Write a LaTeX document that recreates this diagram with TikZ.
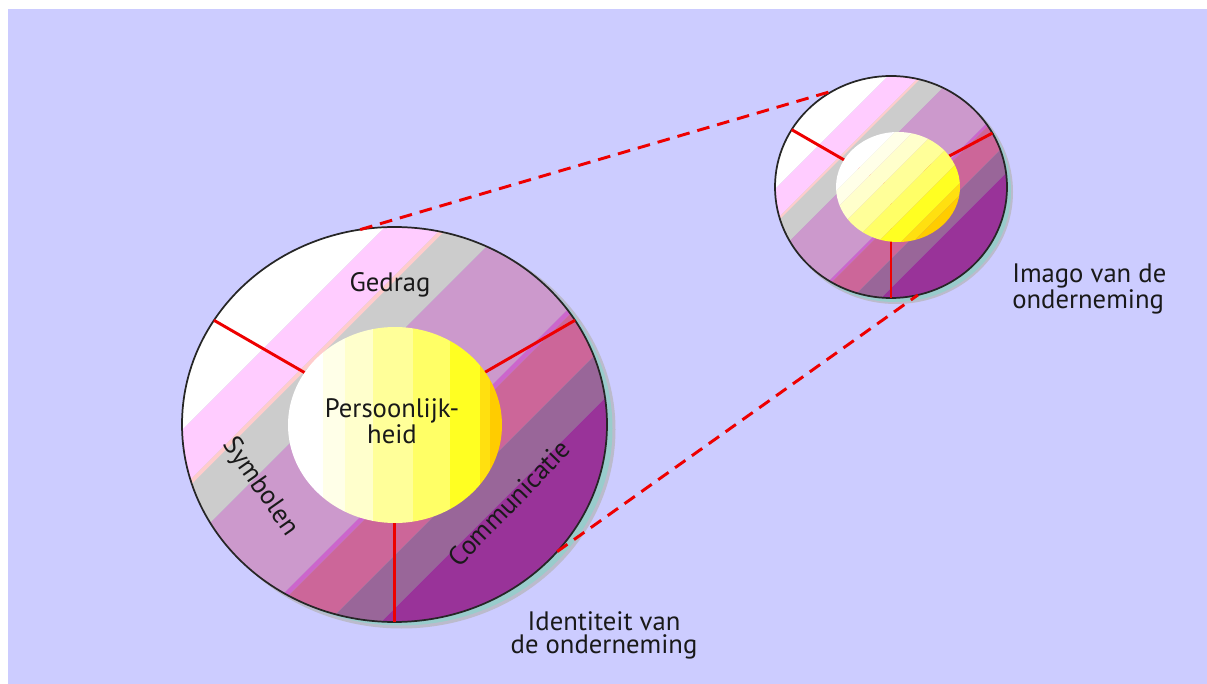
\documentclass[tikz,border=0pt]{standalone}
\usepackage{fontspec}
\setmainfont{PT Sans}
\usetikzlibrary{shapes.geometric}
\definecolor{bgc}{HTML}{CCCCFF}
\definecolor{pinkc}{HTML}{FFCCFF}
\definecolor{salmonc}{HTML}{FFCCCC}
\definecolor{grayc}{HTML}{CCCCCC}
\definecolor{lpurple}{HTML}{CC99CC}
\definecolor{magline}{HTML}{CC66CC}
\definecolor{pinkred}{HTML}{CC6699}
\definecolor{purgray}{HTML}{996699}
\definecolor{purplea}{HTML}{993399}
\definecolor{purpleb}{HTML}{990099}
\definecolor{tealc}{HTML}{99CCCC}
\definecolor{shgray}{HTML}{BBBBCC}
\definecolor{redc}{HTML}{EE0000}
\definecolor{yA}{HTML}{FFFFE8}
\definecolor{yB}{HTML}{FFFFCC}
\definecolor{yC}{HTML}{FFFF99}
\definecolor{yD}{HTML}{FFFF66}
\definecolor{yE}{HTML}{FFFF22}
\definecolor{yF}{HTML}{FFE010}
\definecolor{yG}{HTML}{FFCC00}
\newcommand\rs{1}
\newcommand\bandfill[3]{\fill[#1] ({\rs*(#2)+500},-500) -- ({\rs*(#2)-500},500) -- ({\rs*(#3)-500},500) -- ({\rs*(#3)+500},-500) -- cycle;}
\newcommand\vband[3]{\fill[#1] (#2,-200) rectangle (#3,200);}
\newcommand\ringbands{%
  \bandfill{white}{-700}{-207}
  \bandfill{pinkc}{-207}{-149}
  \bandfill{salmonc}{-149}{-143}
  \bandfill{grayc}{-143}{-86}
  \bandfill{lpurple}{-86}{58}
  \bandfill{magline}{58}{65}
  \bandfill{pinkred}{65}{131}
  \bandfill{purgray}{131}{184}
  \bandfill{purplea}{184}{291}
  \bandfill{purpleb}{291}{700}}
\newcommand\bigyellow{%
  \vband{white}{-130}{-72}
  \vband{yA}{-72}{-50}
  \vband{yB}{-50}{-22}
  \vband{yC}{-22}{18}
  \vband{yD}{18}{55}
  \vband{yE}{55}{85}
  \vband{yF}{85}{95}
  \vband{yG}{95}{130}}
\newcommand\smallyellow{%
  \bandfill{white}{-300}{-58}
  \bandfill{yA}{-58}{-40}
  \bandfill{yB}{-40}{-18}
  \bandfill{yC}{-18}{10}
  \bandfill{yD}{10}{35}
  \bandfill{yE}{35}{58}
  \bandfill{yF}{58}{70}
  \bandfill{yG}{70}{300}}
\tikzset{
  ringnode/.style={ellipse, inner sep=0pt, outer sep=0pt, draw=black!85, line width=1.3pt},
  yellownode/.style={ellipse, inner sep=0pt, outer sep=0pt, draw=none},
  lbl/.style={font=\fontsize{20}{17.5}\selectfont, text=black!90, inner sep=0pt},
  divider/.style={draw=redc, line width=2.2pt},
  dashline/.style={draw=redc, line width=2.2pt, dash pattern=on 9.5pt off 6pt},
}
\begin{document}
\begin{tikzpicture}[x=0.75pt, y=-0.75pt]
\useasboundingbox (0,0) rectangle (1207,684);
\fill[white] (0,0) rectangle (1207,684);
\fill[bgc] (8,9) rectangle (1207,684);
\coordinate (bigc) at (394.5,424.5);
\coordinate (smallc) at (891,187);
% shadows
\fill[shgray] ([shift={(7,5)}]bigc) ellipse [x radius=214, y radius=199];
\fill[tealc] ([shift={(6,4)}]bigc) ellipse [x radius=212, y radius=197];
\fill[shgray] ([shift={(5,5)}]smallc) ellipse [x radius=117, y radius=112];
\fill[tealc] ([shift={(4,4)}]smallc) ellipse [x radius=116, y radius=111];
% big ring
\node[ringnode, minimum width=318.75pt, minimum height=296.25pt,
  path picture={\begin{scope}[shift={(path picture bounding box.center)}]\ringbands\end{scope}}]
  (big) at (bigc) {};
\draw[divider] (big.center) -- (big.150);
\draw[divider] (big.center) -- (big.30);
\draw[divider] (big.center) -- (big.270);
\node[yellownode, minimum width=160.5pt, minimum height=147pt,
  path picture={\begin{scope}[shift={(path picture bounding box.center)}]\bigyellow\end{scope}}]
  (bigin) at (395,425) {};
% small ring
\node[ringnode, minimum width=174pt, minimum height=166.5pt,
  path picture={\begin{scope}[shift={(path picture bounding box.center)}]\renewcommand\rs{0.55}\ringbands\end{scope}}]
  (small) at (smallc) {};
\draw[divider] (small.center) -- (small.150);
\draw[divider] (small.center) -- (small.28);
\draw[divider] (small.center) -- (small.270);
\node[yellownode, minimum width=93pt, minimum height=82.5pt,
  path picture={\begin{scope}[shift={(path picture bounding box.center)}]\smallyellow\end{scope}}]
  (smallin) at (898,187) {};
% labels
\node[lbl, anchor=base] (gedrag) at (390,292) {Gedrag};
\node[lbl, align=center] (pers) at (392,421) {Persoonlijk-\\heid};
\node[lbl, rotate=-55] (symb) at (260,487) {Symbolen};
\node[lbl, rotate=46] (comm) at (509,503) {Communicatie};
\node[lbl, align=left, anchor=north west] (imago) at (1012,264) {Imago van de\\onderneming};
\node[lbl, align=center, anchor=north] (ident) at (604,611) {Identiteit van\\de onderneming};
% connectors
\draw[dashline] (big.100.75) -- (small.121.4);
\draw[dashline] (big.-38.3) -- (small.-76.3);
\end{tikzpicture}
\end{document}
